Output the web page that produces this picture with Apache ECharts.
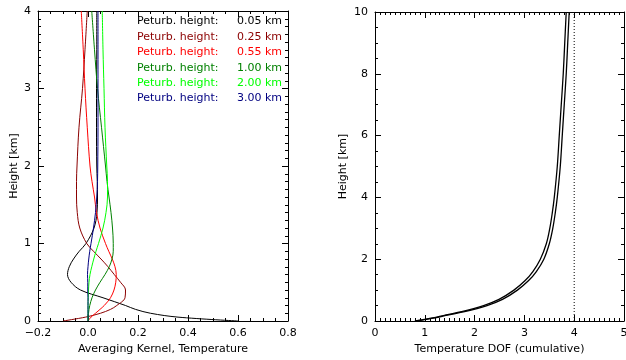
<!DOCTYPE html>
<html style="height: 100%">
<head>
    <meta charset="utf-8">
    <script src="https://cdn.jsdelivr.net/npm/echarts@6/dist/echarts.min.js"></script>
</head>
<body style="height: 100%; margin: 0; background: #fff">
<div id="chart_container" style="width: 626px; height: 360px"></div>
<script type="text/javascript">

    // ---- left panel: averaging kernels (x = kernel value, y = height km)
    var kernel_heights = [0, 0.05, 0.1, 0.15, 0.2, 0.3, 0.4, 0.5, 0.6, 0.7, 0.8, 0.9, 1.0, 1.2, 1.4, 1.6, 1.8, 2.0, 2.5, 3.0, 3.5, 4.0];
    var perturb_labels = ['0.05', '0.25', '0.55', '1.00', '2.00', '3.00'];
    var kernel_005 = [0.60, 0.36, 0.25, 0.19, 0.15, 0.06, -0.03, -0.068, -0.082, -0.075, -0.058, -0.035, -0.008, 0.024, 0.036, 0.038, 0.037, 0.035, 0.034, 0.034, 0.035, 0.035];
    var kernel_025 = [-0.10, -0.01, 0.05, 0.09, 0.115, 0.148, 0.15, 0.13, 0.105, 0.08, 0.052, 0.022, -0.005, -0.033, -0.043, -0.046, -0.046, -0.044, -0.036, -0.022, -0.012, -0.003];
    var kernel_055 = [0.0, 0.012, 0.03, 0.048, 0.065, 0.09, 0.104, 0.111, 0.113, 0.108, 0.097, 0.083, 0.07, 0.048, 0.034, 0.026, 0.016, 0.008, -0.003, -0.012, -0.019, -0.027];
    var kernel_100 = [0.0, 0.0, 0.002, 0.004, 0.007, 0.016, 0.03, 0.048, 0.068, 0.085, 0.096, 0.101, 0.101, 0.098, 0.092, 0.084, 0.076, 0.07, 0.054, 0.038, 0.026, 0.015];
    var kernel_200 = [0.0, 0.0, 0.0, 0.0, 0.0, 0.001, 0.002, 0.004, 0.008, 0.015, 0.023, 0.032, 0.042, 0.06, 0.072, 0.078, 0.078, 0.075, 0.068, 0.064, 0.060, 0.057];
    var kernel_300 = [0.0, 0.0, 0.0, 0.0, 0.0, 0.0, -0.001, -0.001, -0.002, 0.0, 0.003, 0.007, 0.012, 0.022, 0.03, 0.035, 0.038, 0.039, 0.04, 0.04, 0.04, 0.04];
    var kernel_colors = ['#000000', '#8b0000', '#ff0000', '#008000', '#00ff00', '#000080'];

    // ---- right panel: cumulative DOF
    var dof_heights = [0, 0.05, 0.1, 0.2, 0.3, 0.5, 0.7, 1.0, 1.3, 1.6, 2.0, 2.5, 3.0, 3.5, 4.0, 5.0, 6.0, 7.0, 8.0, 9.0, 10.0];
    var dof_outer = [0.82, 1.02, 1.2, 1.48, 1.8, 2.25, 2.56, 2.86, 3.08, 3.24, 3.39, 3.5, 3.57, 3.62, 3.66, 3.72, 3.76, 3.80, 3.84, 3.87, 3.90];
    var dof_inner = [0.80, 0.99, 1.16, 1.43, 1.74, 2.18, 2.49, 2.79, 3.01, 3.17, 3.32, 3.44, 3.51, 3.56, 3.60, 3.66, 3.70, 3.74, 3.78, 3.81, 3.84];
    var dof_limit = 4;

    var kernel_sets = [kernel_005, kernel_025, kernel_055, kernel_100, kernel_200, kernel_300];

    function pairs(xs, hs) {
        var out = [];
        for (var i = 0; i < hs.length; i++) {
            out.push([xs[i], hs[i]]);
        }
        return out;
    }

    var font = 'DejaVu Sans';
    var txt = {color: '#000', fontFamily: font, fontSize: 11};

    function makeAxis(gridIndex, position, min, max, interval, minorSplit, showLabel, name, nameGap, fmt) {
        return {
            type: 'value',
            gridIndex: gridIndex,
            position: position,
            min: min,
            max: max,
            interval: interval,
            name: name || '',
            nameLocation: 'middle',
            nameGap: nameGap || 0,
            nameTextStyle: txt,
            axisLine: {show: true, onZero: false, lineStyle: {color: '#000', width: 1}},
            axisTick: {show: true, inside: true, length: 6, lineStyle: {color: '#000'}},
            minorTick: {show: true, splitNumber: minorSplit, length: 3, lineStyle: {color: '#000'}},
            splitLine: {show: false},
            axisLabel: {show: showLabel, margin: 7, color: '#000', fontFamily: font, fontSize: 11, formatter: fmt}
        };
    }

    var fmt1 = function (v) { return (v < 0 ? '\u2212' : '') + Math.abs(v).toFixed(1); };
    var fmt0 = function (v) { return String(Math.round(v)); };

    var series_list = [];
    for (var k = 0; k < kernel_sets.length; k++) {
        series_list.push({
            name: 'Peturb. height: ' + perturb_labels[k] + ' km',
            type: 'line',
            xAxisIndex: 0,
            yAxisIndex: 0,
            smooth: 0.35,
            showSymbol: false,
            lineStyle: {color: kernel_colors[k], width: 1},
            data: pairs(kernel_sets[k], kernel_heights)
        });
    }
    series_list.push({
        type: 'line', xAxisIndex: 2, yAxisIndex: 2, smooth: 0.35, showSymbol: false,
        lineStyle: {color: '#000', width: 1.3}, data: pairs(dof_outer, dof_heights)
    });
    series_list.push({
        type: 'line', xAxisIndex: 2, yAxisIndex: 2, smooth: 0.35, showSymbol: false,
        lineStyle: {color: '#000', width: 1.3}, data: pairs(dof_inner, dof_heights)
    });
    series_list.push({
        type: 'line', xAxisIndex: 2, yAxisIndex: 2, showSymbol: false,
        lineStyle: {color: '#000', width: 1, type: [1, 2]},
        data: [[dof_limit, 0], [dof_limit, 10]]
    });

    // legend text in the upper right of the left panel
    var legend_items = [];
    for (var j = 0; j < perturb_labels.length; j++) {
        legend_items.push({
            type: 'text', left: 137, top: 16 + j * 15.4,
            style: {text: 'Peturb. height:', fill: kernel_colors[j], font: '11px ' + font}
        });
        legend_items.push({
            type: 'text', right: 626 - 282, top: 16 + j * 15.4,
            style: {text: perturb_labels[j] + ' km', fill: kernel_colors[j], font: '11px ' + font, textAlign: 'right'}
        });
    }

    var option = {
        animation: false,
        backgroundColor: '#fff',
        grid: [
            {left: 38, top: 11, width: 250, height: 310, outerBoundsMode: 'none'},
            {left: 375, top: 12, width: 249, height: 309, outerBoundsMode: 'none'}
        ],
        xAxis: [
            makeAxis(0, 'bottom', -0.2, 0.8, 0.2, 4, true, 'Averaging Kernel, Temperature', 22, fmt1),
            makeAxis(0, 'top', -0.2, 0.8, 0.2, 4, false),
            makeAxis(1, 'bottom', 0, 5, 1, 10, true, 'Temperature DOF (cumulative)', 22, fmt0),
            makeAxis(1, 'top', 0, 5, 1, 10, false)
        ],
        yAxis: [
            makeAxis(0, 'left', 0, 4, 1, 10, true, 'Height [km]', 18, fmt0),
            makeAxis(0, 'right', 0, 4, 1, 10, false),
            makeAxis(1, 'left', 0, 10, 2, 4, true, 'Height [km]', 26, fmt0),
            makeAxis(1, 'right', 0, 10, 2, 4, false)
        ],
        graphic: legend_items,
        series: series_list
    };

    var chart = echarts.init(document.getElementById('chart_container'), null, {renderer: 'canvas'});
    chart.setOption(option);
</script>
</body>
</html>
